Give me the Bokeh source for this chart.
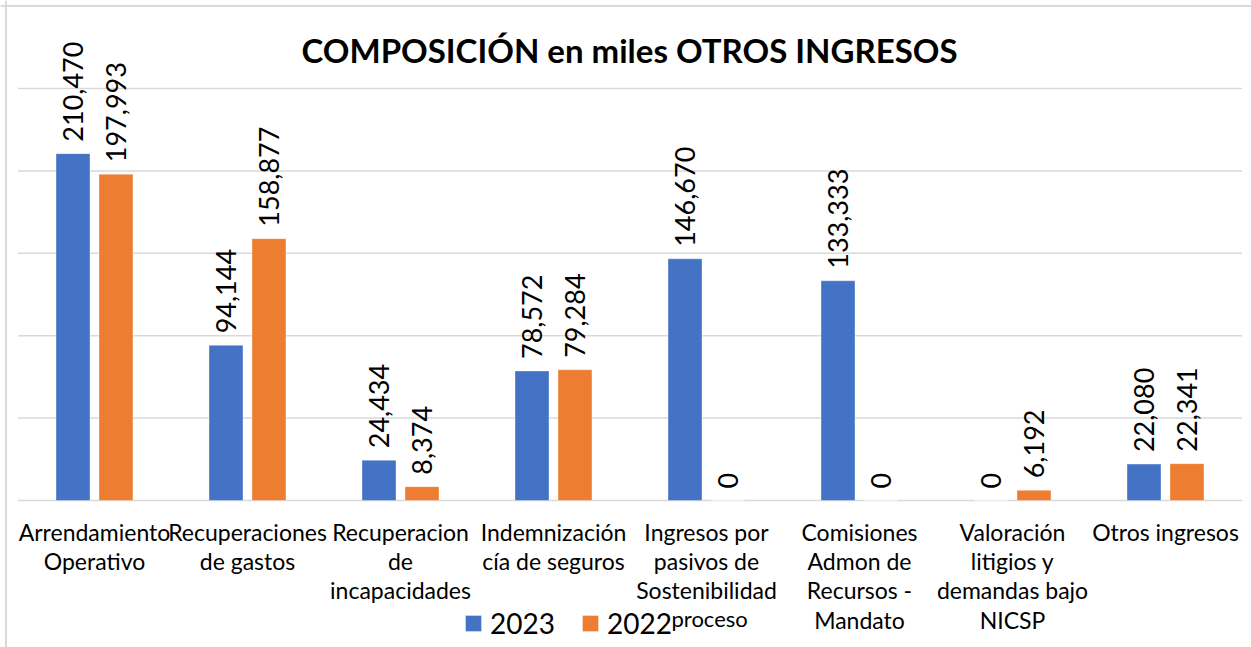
from math import pi
from bokeh.plotting import figure
from bokeh.models import (ColumnDataSource, Range1d, LabelSet, Legend,
                          LegendItem, Label, Span)
from bokeh.transform import dodge
from bokeh.embed import file_html
from bokeh.resources import INLINE
from bokeh.core.properties import value

# ---- data ----
categories = [
    "Arrendamiento\nOperativo",
    "Recuperaciones\nde gastos",
    "Recuperacion\nde\nincapacidades",
    "Indemnización\ncía de seguros",
    "Ingresos por\npasivos de\nSostenibilidad",
    "Comisiones\nAdmon de\nRecursos -\nMandato",
    "Valoración\nlitigios y\ndemandas bajo\nNICSP",
    "Otros ingresos",
]
values_2023 = [210470, 94144, 24434, 78572, 146670, 133333, 0, 22080]
values_2022 = [197993, 158877, 8374, 79284, 0, 0, 6192, 22341]
series_names = ["2023", "2022"]
grid_values = [0, 50000, 100000, 150000, 200000, 250000]
colors = ["#4472C4", "#ED7D31"]
title_text = "COMPOSICIÓN en miles OTROS INGRESOS"
extra_text = "proceso"

# ---- layout constants (pixels) ----
FONT = "Lato"
W, H = 1251, 647
BASE_PX = 500                 # pixel row of value 0
VAL_PER_PX = 250000 / 412.0   # value units per pixel
LEFT_PX, RIGHT_PX = 17.5, 1241.5
n = len(categories)
SLOT_PX = (RIGHT_PX - LEFT_PX) / n


def xdata(px):
    return (px - LEFT_PX) / SLOT_PX


def ydata(py):
    return (BASE_PX - py) * VAL_PER_PX


src = ColumnDataSource(dict(
    x=[i + 0.5 for i in range(n)],
    cat=categories,
    v23=values_2023,
    v22=values_2022,
    l23=[f"{v:,}" for v in values_2023],
    l22=[f"{v:,}" for v in values_2022],
))

p = figure(x_range=Range1d(xdata(0), xdata(W)),
           y_range=Range1d(ydata(H), ydata(0)),
           width=W, height=H, output_backend="svg", toolbar_location=None,
           min_border_left=0, min_border_right=0, min_border_top=0,
           min_border_bottom=0)

p.xaxis.visible = False
p.yaxis.visible = False
p.xgrid.grid_line_color = None
p.ygrid.grid_line_color = None
p.outline_line_color = None

# horizontal gridlines across the category area only
p.segment(x0=0, x1=n, y0=grid_values, y1=grid_values,
          line_color="#D9D9D9", line_width=1.5)

off = 0.1405
w = 0.222
r1 = p.vbar(x=dodge("x", -off), top="v23", width=w, source=src,
            fill_color=colors[0], line_color="white", line_alpha=0.35, line_width=1)
r2 = p.vbar(x=dodge("x", off), top="v22", width=w, source=src,
            fill_color=colors[1], line_color="white", line_alpha=0.35, line_width=1)

for key, o in (("23", -off), ("22", off)):
    p.add_layout(LabelSet(x=dodge("x", o), y="v" + key, text="l" + key,
                          source=src, angle=pi / 2, text_align="left",
                          text_baseline="middle", y_offset=12,
                          text_font=value(FONT), text_font_size="27px",
                          text_color="black"))

# category labels under the baseline
p.text(x="x", y=0, text="cat", source=src, text_align="center",
       text_baseline="top", y_offset=17, text_font=value(FONT),
       text_font_size="23px", text_line_height=1.05, text_color="black")

# chart border (left and top edges)
p.add_layout(Span(location=xdata(5.5), dimension="height", line_color="#D9D9D9",
                  line_width=2))
p.add_layout(Span(location=ydata(5.5), dimension="width", line_color="#D9D9D9",
                  line_width=2))

# title
p.add_layout(Label(x=xdata(629), y=ydata(49), text=title_text,
                   text_align="center", text_baseline="middle", text_font=FONT,
                   text_font_style="bold", text_font_size="33px", text_color="black"))

legend = Legend(items=[LegendItem(label=series_names[0], renderers=[r1]),
                       LegendItem(label=series_names[1], renderers=[r2])],
                orientation="horizontal", location=(463, H - 640),
                glyph_width=20, glyph_height=20, label_standoff=7, spacing=25,
                padding=0, margin=0, border_line_color=None,
                background_fill_alpha=0, label_text_font=FONT,
                label_text_font_size="28px", label_text_color="black")
p.add_layout(legend)

p.add_layout(Label(x=xdata(671), y=ydata(618), text=extra_text,
                   text_font=FONT, text_font_size="22px", text_color="black",
                   text_baseline="alphabetic"))

open("out.html", "w").write(file_html(p, INLINE))
